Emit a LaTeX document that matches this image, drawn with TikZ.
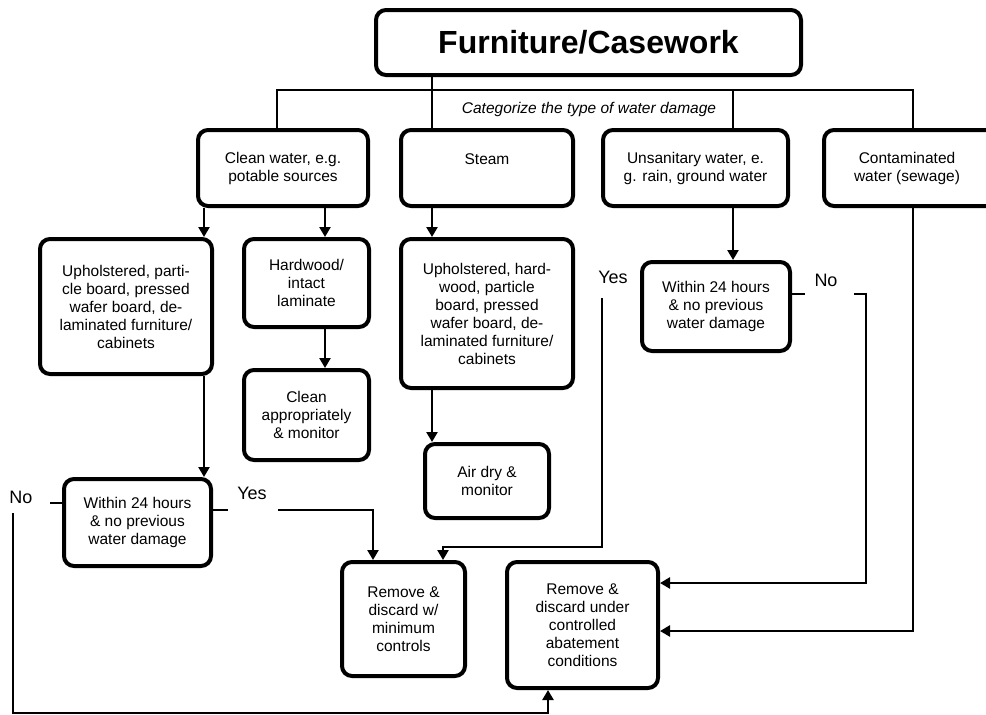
\documentclass[tikz,border=0pt]{standalone}
\usepackage{fontspec}
\setmainfont{Liberation Sans}
\usetikzlibrary{arrows.meta}
\begin{document}
\begin{tikzpicture}[x=1pt,y=-1pt,
  box/.style={draw, line width=4pt, rounded corners=10pt, align=center, inner sep=0pt, font=\fontsize{15.5}{18}\selectfont},
  conn/.style={line width=2.5pt},
  arr/.style={conn, -{Triangle[length=10pt,width=11pt]}},
  lbl/.style={font=\fontsize{18}{20}\selectfont, inner sep=0pt}]
\useasboundingbox (0,0) rectangle (986,715);

% boxes
\node[box, minimum width=425pt, minimum height=65pt, font=\bfseries\fontsize{32}{36}\selectfont] (title) at (588.5,42.5) {Furniture/Casework};
\node[box, minimum width=170pt, minimum height=76pt] (clean) at (283,168) {Clean water, e.g.\\potable sources};
\node[box, minimum width=172pt, minimum height=76pt] (steam) at (487,168) {Steam\\\mbox{}};
\node[box, minimum width=185pt, minimum height=76pt] (unsan) at (695.5,168) {Unsanitary water, e.\\g. rain, ground water};
\node[box, minimum width=178pt, minimum height=76pt] (contam) at (913,168) {\hspace*{-12pt}Contaminated\\\hspace*{-12pt}water (sewage)};
\node[box, minimum width=172pt, minimum height=135pt] (uph1) at (126,306.5) {Upholstered, parti-\\cle board, pressed\\wafer board, de-\\laminated furniture/\\cabinets};
\node[box, minimum width=125pt, minimum height=88pt] (hard) at (306.5,283) {Hardwood/\\intact\\laminate};
\node[box, minimum width=125pt, minimum height=90pt] (cleanapp) at (306.5,415) {Clean\\appropriately\\\& monitor};
\node[box, minimum width=172pt, minimum height=149pt] (uph2) at (487,313.5) {Upholstered, hard-\\wood, particle\\board, pressed\\wafer board, de-\\laminated furniture/\\cabinets};
\node[box, minimum width=124pt, minimum height=74pt] (airdry) at (487,481) {Air dry \&\\monitor};
\node[box, minimum width=148pt, minimum height=89pt] (within2) at (716,306.5) {Within 24 hours\\\& no previous\\water damage};
\node[box, minimum width=147pt, minimum height=87pt] (within1) at (137.5,522.5) {Within 24 hours\\\& no previous\\water damage};
\node[box, minimum width=123pt, minimum height=114pt] (remmin) at (403.5,619) {Remove \&\\discard w/\\minimum\\controls};
\node[box, minimum width=151pt, minimum height=126pt] (remctl) at (582.5,625) {Remove \&\\discard under\\controlled\\abatement\\conditions};

\node[font=\itshape\fontsize{15.5}{18}\selectfont, inner sep=0pt] (cat) at (589,109) {Categorize the type of water damage};

% helper coordinates
\coordinate (xA) at (204,0);
\coordinate (xB) at (325,0);
\coordinate (xC) at (432,0);
\coordinate (xE) at (733,0);
\coordinate (hL) at (277,90);
\coordinate (hR) at (913,90);

% top branches
\draw[conn] (clean.north -| hL) -- (hL) -- (hR) -- (contam.north -| hR);
\draw[conn] (title.south -| xC) -- (steam.north -| xC);
\draw[conn] (hL -| xE) -- (unsan.north -| xE);

% arrows
\draw[arr] (clean.south -| xA) -- (uph1.north -| xA);
\draw[arr] (clean.south -| xB) -- (hard.north -| xB);
\draw[arr] (steam.south -| xC) -- (uph2.north -| xC);
\draw[arr] (hard.south -| xB) -- (cleanapp.north -| xB);
\draw[arr] (uph1.south -| xA) -- (within1.north -| xA);
\draw[arr] (uph2.south -| xC) -- (airdry.north -| xC);
\draw[arr] (unsan.south -| xE) -- (within2.north -| xE);

% within1 No
\coordinate (n1a) at (50,503);
\draw[conn] (within1.west |- n1a) -- (n1a);
\node[lbl] (no1) at (21,497) {No};
\coordinate (n1b) at (13,513);
\coordinate (n1c) at (13,713);
\coordinate (n1d) at (548,713);
\draw[arr] (n1b) -- (n1c) -- (n1d) -- (remctl.south -| n1d);

% within1 Yes
\coordinate (y1a) at (228,510);
\draw[conn] (within1.east |- y1a) -- (y1a);
\node[lbl] (yes1) at (252,493) {Yes};
\coordinate (y1b) at (278,510);
\coordinate (y1c) at (373,510);
\draw[arr] (y1b) -- (y1c) -- (remmin.north -| y1c);

% within2 Yes
\node[lbl] (yes2) at (613,277) {Yes};
\coordinate (y2a) at (602,298);
\coordinate (y2b) at (602,547);
\coordinate (y2c) at (443,547);
\draw[arr] (y2a) -- (y2b) -- (y2c) -- (remmin.north -| y2c);

% within2 No
\coordinate (n2a) at (805,294);
\draw[conn] (within2.east |- n2a) -- (n2a);
\node[lbl] (no2) at (826,280) {No};
\coordinate (n2b) at (854,294);
\coordinate (n2c) at (866,294);
\coordinate (n2d) at (866,583);
\draw[arr] (n2b) -- (n2c) -- (n2d) -- (remctl.east |- n2d);

% contaminated
\coordinate (cA) at (913,631);
\draw[arr] (contam.south -| hR) -- (cA) -- (remctl.east |- cA);
\end{tikzpicture}
\end{document}
